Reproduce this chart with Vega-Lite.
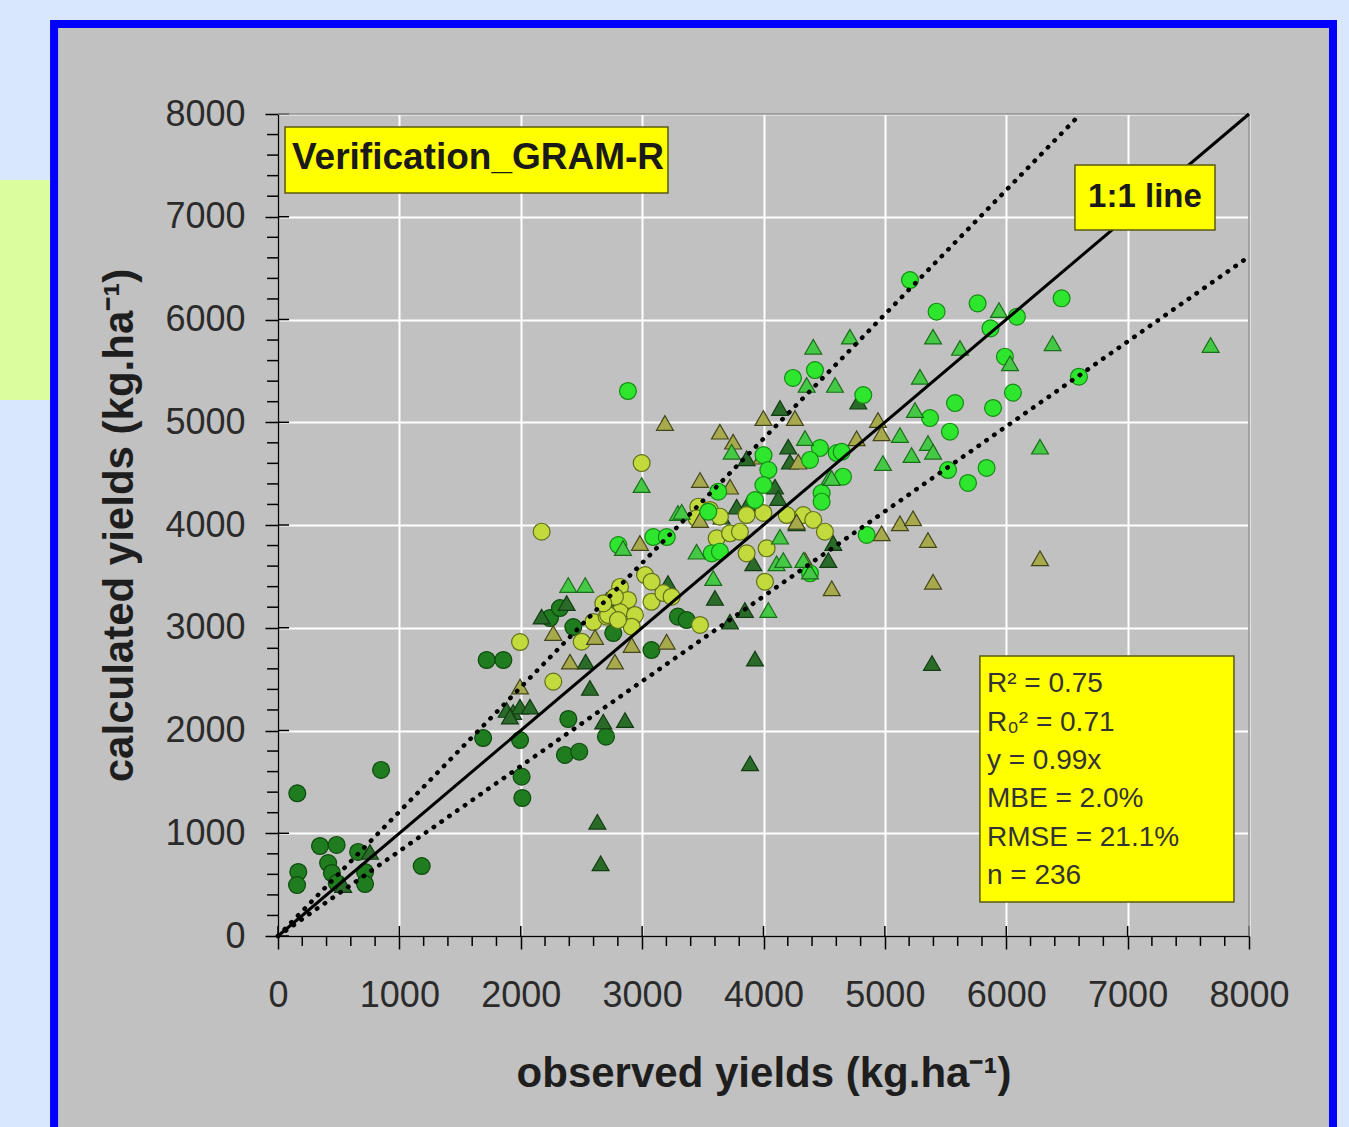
{
  "$schema": "https://vega.github.io/schema/vega-lite/v6.json",
  "width": 971,
  "height": 822,
  "autosize": {"type": "none"},
  "padding": {"left": 278, "top": 114, "right": 100, "bottom": 191},
  "background": "#c1c1c1",
  "config": {"view": {"stroke": null, "fill": null}},
  "datasets": {
    "one": [{}],
    "points": [
      {"obs":159,"calc":1389,"series":"g1"},{"obs":849,"calc":1616,"series":"g1"},{"obs":346,"calc":876,"series":"g1"},{"obs":483,"calc":886,"series":"g1"},{"obs":167,"calc":623,"series":"g1"},{"obs":157,"calc":496,"series":"g1"},{"obs":413,"calc":710,"series":"g1"},{"obs":444,"calc":613,"series":"g1"},{"obs":660,"calc":818,"series":"g1"},{"obs":717,"calc":623,"series":"g1"},{"obs":717,"calc":506,"series":"g1"},{"obs":1184,"calc":681,"series":"g1"},{"obs":1690,"calc":1927,"series":"g1"},{"obs":1994,"calc":1907,"series":"g1"},{"obs":2007,"calc":1551,"series":"g1"},{"obs":2013,"calc":1343,"series":"g1"},{"obs":1719,"calc":2686,"series":"g1"},{"obs":1857,"calc":2686,"series":"g1"},{"obs":2241,"calc":3095,"series":"g1"},{"obs":2323,"calc":3192,"series":"g1"},{"obs":2433,"calc":3007,"series":"g1"},{"obs":2762,"calc":2949,"series":"g1"},{"obs":2392,"calc":2112,"series":"g1"},{"obs":3077,"calc":2783,"series":"g1"},{"obs":2364,"calc":1762,"series":"g1"},{"obs":2482,"calc":1794,"series":"g1"},{"obs":2702,"calc":1940,"series":"g1"},{"obs":3295,"calc":3108,"series":"g1"},{"obs":3367,"calc":3075,"series":"g1"},{"obs":484,"calc":516,"series":"g1"},
      {"obs":758,"calc":818,"series":"g2"},{"obs":537,"calc":496,"series":"g2"},{"obs":1937,"calc":2180,"series":"g2"},{"obs":1884,"calc":2200,"series":"g2"},{"obs":1994,"calc":2232,"series":"g2"},{"obs":2076,"calc":2232,"series":"g2"},{"obs":1911,"calc":2135,"series":"g2"},{"obs":2172,"calc":3108,"series":"g2"},{"obs":2378,"calc":3240,"series":"g2"},{"obs":2535,"calc":2670,"series":"g2"},{"obs":2570,"calc":2414,"series":"g2"},{"obs":2680,"calc":2086,"series":"g2"},{"obs":2859,"calc":2102,"series":"g2"},{"obs":3213,"calc":3435,"series":"g2"},{"obs":4136,"calc":5139,"series":"g2"},{"obs":4204,"calc":4762,"series":"g2"},{"obs":4218,"calc":4616,"series":"g2"},{"obs":3861,"calc":4649,"series":"g2"},{"obs":4095,"calc":4373,"series":"g2"},{"obs":4122,"calc":4263,"series":"g2"},{"obs":3779,"calc":4178,"series":"g2"},{"obs":3875,"calc":4214,"series":"g2"},{"obs":3655,"calc":4081,"series":"g2"},{"obs":4273,"calc":4016,"series":"g2"},{"obs":4575,"calc":3825,"series":"g2"},{"obs":3916,"calc":3627,"series":"g2"},{"obs":4534,"calc":3659,"series":"g2"},{"obs":3600,"calc":3290,"series":"g2"},{"obs":3847,"calc":3173,"series":"g2"},{"obs":3724,"calc":3059,"series":"g2"},{"obs":3930,"calc":2700,"series":"g2"},{"obs":4781,"calc":5200,"series":"g2"},{"obs":3889,"calc":1681,"series":"g2"},{"obs":2631,"calc":1112,"series":"g2"},{"obs":2658,"calc":707,"series":"g2"},{"obs":5388,"calc":2657,"series":"g2"},{"obs":2708,"calc":3270,"series":"g2"},
      {"obs":2172,"calc":3935,"series":"g5"},{"obs":2996,"calc":4603,"series":"g5"},{"obs":1994,"calc":2861,"series":"g5"},{"obs":2502,"calc":2864,"series":"g5"},{"obs":2598,"calc":3056,"series":"g5"},{"obs":2818,"calc":3397,"series":"g5"},{"obs":2884,"calc":3270,"series":"g5"},{"obs":2818,"calc":3153,"series":"g5"},{"obs":2941,"calc":3124,"series":"g5"},{"obs":2708,"calc":3108,"series":"g5"},{"obs":2776,"calc":3302,"series":"g5"},{"obs":3077,"calc":3253,"series":"g5"},{"obs":3175,"calc":3338,"series":"g5"},{"obs":2268,"calc":2476,"series":"g5"},{"obs":3463,"calc":4178,"series":"g5"},{"obs":3449,"calc":4065,"series":"g5"},{"obs":3559,"calc":4146,"series":"g5"},{"obs":3641,"calc":4081,"series":"g5"},{"obs":3861,"calc":4097,"series":"g5"},{"obs":3999,"calc":4117,"series":"g5"},{"obs":4191,"calc":4097,"series":"g5"},{"obs":4328,"calc":4097,"series":"g5"},{"obs":4410,"calc":4049,"series":"g5"},{"obs":4506,"calc":3935,"series":"g5"},{"obs":3614,"calc":3870,"series":"g5"},{"obs":3724,"calc":3919,"series":"g5"},{"obs":3806,"calc":3935,"series":"g5"},{"obs":3861,"calc":3724,"series":"g5"},{"obs":4026,"calc":3773,"series":"g5"},{"obs":4012,"calc":3448,"series":"g5"},{"obs":2720,"calc":3124,"series":"g5"},{"obs":3024,"calc":3513,"series":"g5"},{"obs":3078,"calc":3448,"series":"g5"},{"obs":3243,"calc":3302,"series":"g5"},{"obs":3477,"calc":3027,"series":"g5"},{"obs":2680,"calc":3237,"series":"g5"},{"obs":2914,"calc":3010,"series":"g5"},{"obs":2801,"calc":3075,"series":"g5"},
      {"obs":1994,"calc":2427,"series":"g6"},{"obs":2982,"calc":3825,"series":"g6"},{"obs":2268,"calc":2949,"series":"g6"},{"obs":2612,"calc":2910,"series":"g6"},{"obs":2406,"calc":2670,"series":"g6"},{"obs":2776,"calc":2670,"series":"g6"},{"obs":3202,"calc":2864,"series":"g6"},{"obs":3188,"calc":4993,"series":"g6"},{"obs":3641,"calc":4908,"series":"g6"},{"obs":3750,"calc":4811,"series":"g6"},{"obs":3999,"calc":5041,"series":"g6"},{"obs":4259,"calc":5041,"series":"g6"},{"obs":3985,"calc":4665,"series":"g6"},{"obs":3477,"calc":4438,"series":"g6"},{"obs":3724,"calc":4373,"series":"g6"},{"obs":3477,"calc":4049,"series":"g6"},{"obs":4342,"calc":3659,"series":"g6"},{"obs":4562,"calc":3384,"series":"g6"},{"obs":2914,"calc":2832,"series":"g6"},{"obs":4943,"calc":5022,"series":"g6"},{"obs":4973,"calc":4892,"series":"g6"},{"obs":4767,"calc":4844,"series":"g6"},{"obs":4287,"calc":4616,"series":"g6"},{"obs":4273,"calc":4032,"series":"g6"},{"obs":4973,"calc":3919,"series":"g6"},{"obs":5124,"calc":4016,"series":"g6"},{"obs":5232,"calc":4065,"series":"g6"},{"obs":5355,"calc":3854,"series":"g6"},{"obs":5397,"calc":3448,"series":"g6"},{"obs":6278,"calc":3676,"series":"g6"},
      {"obs":2804,"calc":3805,"series":"g3"},{"obs":3092,"calc":3883,"series":"g3"},{"obs":3203,"calc":3883,"series":"g3"},{"obs":4465,"calc":4749,"series":"g3"},{"obs":4383,"calc":4633,"series":"g3"},{"obs":4603,"calc":4700,"series":"g3"},{"obs":4000,"calc":4680,"series":"g3"},{"obs":4040,"calc":4535,"series":"g3"},{"obs":3999,"calc":4389,"series":"g3"},{"obs":3627,"calc":4324,"series":"g3"},{"obs":4479,"calc":4311,"series":"g3"},{"obs":4479,"calc":4227,"series":"g3"},{"obs":3545,"calc":4129,"series":"g3"},{"obs":3930,"calc":4243,"series":"g3"},{"obs":3573,"calc":3724,"series":"g3"},{"obs":3641,"calc":3740,"series":"g3"},{"obs":4424,"calc":5508,"series":"g3"},{"obs":4243,"calc":5431,"series":"g3"},{"obs":4822,"calc":5265,"series":"g3"},{"obs":5578,"calc":5187,"series":"g3"},{"obs":5891,"calc":5139,"series":"g3"},{"obs":5372,"calc":5041,"series":"g3"},{"obs":5536,"calc":4908,"series":"g3"},{"obs":4644,"calc":4713,"series":"g3"},{"obs":5520,"calc":4535,"series":"g3"},{"obs":5838,"calc":4555,"series":"g3"},{"obs":5685,"calc":4409,"series":"g3"},{"obs":4655,"calc":4470,"series":"g3"},{"obs":4850,"calc":3903,"series":"g3"},{"obs":5207,"calc":6384,"series":"g3"},{"obs":5426,"calc":6076,"series":"g3"},{"obs":5764,"calc":6157,"series":"g3"},{"obs":5870,"calc":5914,"series":"g3"},{"obs":6088,"calc":6027,"series":"g3"},{"obs":6456,"calc":6206,"series":"g3"},{"obs":5989,"calc":5638,"series":"g3"},{"obs":6599,"calc":5443,"series":"g3"},{"obs":6055,"calc":5288,"series":"g3"},{"obs":2883,"calc":5304,"series":"g3"},{"obs":4383,"calc":3530,"series":"g3"},
      {"obs":2996,"calc":4389,"series":"g4"},{"obs":2391,"calc":3416,"series":"g4"},{"obs":2531,"calc":3416,"series":"g4"},{"obs":3295,"calc":4117,"series":"g4"},{"obs":3738,"calc":4713,"series":"g4"},{"obs":4342,"calc":4847,"series":"g4"},{"obs":4548,"calc":4470,"series":"g4"},{"obs":3326,"calc":4129,"series":"g4"},{"obs":3449,"calc":3740,"series":"g4"},{"obs":4136,"calc":3886,"series":"g4"},{"obs":4108,"calc":3627,"series":"g4"},{"obs":4163,"calc":3659,"series":"g4"},{"obs":4383,"calc":3546,"series":"g4"},{"obs":3586,"calc":3484,"series":"g4"},{"obs":4040,"calc":3173,"series":"g4"},{"obs":4410,"calc":5735,"series":"g4"},{"obs":4712,"calc":5833,"series":"g4"},{"obs":5397,"calc":5833,"series":"g4"},{"obs":5619,"calc":5723,"series":"g4"},{"obs":4356,"calc":5363,"series":"g4"},{"obs":4589,"calc":5363,"series":"g4"},{"obs":5289,"calc":5443,"series":"g4"},{"obs":5248,"calc":5119,"series":"g4"},{"obs":5124,"calc":4876,"series":"g4"},{"obs":5355,"calc":4798,"series":"g4"},{"obs":5397,"calc":4713,"series":"g4"},{"obs":5220,"calc":4681,"series":"g4"},{"obs":4984,"calc":4603,"series":"g4"},{"obs":4562,"calc":4457,"series":"g4"},{"obs":4328,"calc":3659,"series":"g4"},{"obs":5940,"calc":6092,"series":"g4"},{"obs":6382,"calc":5768,"series":"g4"},{"obs":6031,"calc":5573,"series":"g4"},{"obs":6278,"calc":4762,"series":"g4"},{"obs":7684,"calc":5752,"series":"g4"},{"obs":2842,"calc":3776,"series":"g4"}
    ],
    "lines": [
      {"line":"one","obs":0,"calc":0},{"line":"one","obs":8000,"calc":8000},
      {"line":"upper","obs":0,"calc":0},{"line":"upper","obs":6612,"calc":8000},
      {"line":"lower","obs":0,"calc":0},{"line":"lower","obs":8000,"calc":6612}
    ],
    "minor": [{"v":200},{"v":400},{"v":600},{"v":800},{"v":1200},{"v":1400},{"v":1600},{"v":1800},{"v":2200},{"v":2400},{"v":2600},{"v":2800},{"v":3200},{"v":3400},{"v":3600},{"v":3800},{"v":4200},{"v":4400},{"v":4600},{"v":4800},{"v":5200},{"v":5400},{"v":5600},{"v":5800},{"v":6200},{"v":6400},{"v":6600},{"v":6800},{"v":7200},{"v":7400},{"v":7600},{"v":7800}],
    "major": [{"v":0},{"v":1000},{"v":2000},{"v":3000},{"v":4000},{"v":5000},{"v":6000},{"v":7000},{"v":8000}]
  },
  "layer": [
    {"data": {"name": "one"}, "mark": {"type": "rect", "fill": "#d8e7fb"},
     "encoding": {"x": {"datum": -2500, "type": "quantitative", "scale": {"domain": [0, 8000], "nice": false, "zero": false}}, "x2": {"datum": 9200}, "y": {"datum": 8876, "type": "quantitative", "scale": {"domain": [0, 8000], "nice": false, "zero": false}}, "y2": {"datum": 9500}}},
    {"data": {"name": "one"}, "mark": {"type": "rect", "fill": "#d8e7fb"},
     "encoding": {"x": {"datum": -2500, "type": "quantitative"}, "x2": {"datum": -1845}, "y": {"datum": -2200, "type": "quantitative"}, "y2": {"datum": 9500}}},
    {"data": {"name": "one"}, "mark": {"type": "rect", "fill": "#d8e7fb"},
     "encoding": {"x": {"datum": 8692, "type": "quantitative"}, "x2": {"datum": 9200}, "y": {"datum": -2200, "type": "quantitative"}, "y2": {"datum": 9500}}},
    {"data": {"name": "one"}, "mark": {"type": "rect", "fill": "#dcfd9e"},
     "encoding": {"x": {"datum": -2500, "type": "quantitative"}, "x2": {"datum": -1860}, "y": {"datum": 5217, "type": "quantitative"}, "y2": {"datum": 7358}}},
    {"data": {"name": "one"}, "mark": {"type": "rect", "fillOpacity": 0, "stroke": "#0000ff", "strokeWidth": 8},
     "encoding": {"x": {"datum": -1845, "type": "quantitative"}, "x2": {"datum": 8692}, "y": {"datum": -1985, "type": "quantitative"}, "y2": {"datum": 8876}}},
    {"data": {"name": "points"},
     "mark": {"type": "point", "filled": true, "size": 285, "strokeWidth": 1.2, "opacity": 1},
     "encoding": {
       "x": {"field": "obs", "type": "quantitative", "scale": {"domain": [0, 8000], "nice": false, "zero": false},
         "axis": {"values": [0,1000,2000,3000,4000,5000,6000,7000,8000], "format": "d", "grid": true, "gridColor": "#ffffff", "gridWidth": 2, "gridOpacity": 1, "domainColor": "#000000", "domainWidth": 1.5, "tickColor": "#000000", "tickWidth": 1.5, "tickSize": 13, "labelFont": "Liberation Sans", "labelFontSize": 36, "labelColor": "#2b2b2b", "labelPadding": 29, "labelFlush": false, "labelOverlap": false, "labelBound": false, "title": "observed yields (kg.ha⁻¹)", "titleFont": "Liberation Sans", "titleFontSize": 42, "titleFontWeight": "bold", "titleColor": "#1e1e1e", "titlePadding": 40}},
       "y": {"field": "calc", "type": "quantitative", "scale": {"domain": [0, 8000], "nice": false, "zero": false},
         "axis": {"values": [0,1000,2000,3000,4000,5000,6000,7000,8000], "format": "d", "grid": true, "gridColor": "#ffffff", "gridWidth": 2, "gridOpacity": 1, "domainColor": "#000000", "domainWidth": 1.5, "tickColor": "#000000", "tickWidth": 1.5, "tickSize": 13, "labelFont": "Liberation Sans", "labelFontSize": 36, "labelColor": "#2b2b2b", "labelPadding": 20, "labelOverlap": false, "labelBound": false, "title": "calculated yields (kg.ha⁻¹)", "titleFont": "Liberation Sans", "titleFontSize": 42, "titleFontWeight": "bold", "titleColor": "#1e1e1e", "titlePadding": 23}},
       "shape": {"field": "series", "type": "nominal", "legend": null, "scale": {"domain": ["g1","g2","g3","g4","g5","g6"], "range": ["circle","triangle-up","circle","triangle-up","circle","triangle-up"]}},
       "fill": {"field": "series", "type": "nominal", "legend": null, "scale": {"domain": ["g1","g2","g3","g4","g5","g6"], "range": ["#1f7d1f","#2a6b2a","#2fe62f","#45c845","#c2da3c","#a6aa4c"]}},
       "stroke": {"field": "series", "type": "nominal", "legend": null, "scale": {"domain": ["g1","g2","g3","g4","g5","g6"], "range": ["#0e4a0e","#123d12","#138a13","#1a6e1a","#5f6e1a","#44441a"]}}
     }},
    {"data": {"name": "minor"}, "mark": {"type": "rule", "color": "#000000", "strokeWidth": 1.5},
     "encoding": {"x": {"field": "v", "type": "quantitative"}, "y": {"datum": 0, "type": "quantitative"}, "y2": {"datum": -97}}},
    {"data": {"name": "minor"}, "mark": {"type": "rule", "color": "#000000", "strokeWidth": 1.5},
     "encoding": {"y": {"field": "v", "type": "quantitative"}, "x": {"datum": 0, "type": "quantitative"}, "x2": {"datum": -90}}},
    {"data": {"name": "major"}, "mark": {"type": "rule", "color": "#000000", "strokeWidth": 1.5},
     "encoding": {"x": {"field": "v", "type": "quantitative"}, "y": {"datum": 0, "type": "quantitative"}, "y2": {"datum": 97}}},
    {"data": {"name": "major"}, "mark": {"type": "rule", "color": "#000000", "strokeWidth": 1.5},
     "encoding": {"y": {"field": "v", "type": "quantitative"}, "x": {"datum": 0, "type": "quantitative"}, "x2": {"datum": 91}}},
    {"data": {"name": "one"}, "mark": {"type": "rule", "color": "#8a8a8a", "strokeWidth": 1.5},
     "encoding": {"x": {"datum": 0, "type": "quantitative"}, "x2": {"datum": 8000}, "y": {"datum": 8000, "type": "quantitative"}}},
    {"data": {"name": "one"}, "mark": {"type": "rule", "color": "#8a8a8a", "strokeWidth": 1.5},
     "encoding": {"x": {"datum": 8000, "type": "quantitative"}, "y": {"datum": 0, "type": "quantitative"}, "y2": {"datum": 8000}}},
    {"data": {"name": "lines"}, "transform": [{"filter": "datum.line == 'one'"}],
     "mark": {"type": "line", "color": "#000000", "strokeWidth": 3},
     "encoding": {"x": {"field": "obs", "type": "quantitative"}, "y": {"field": "calc", "type": "quantitative"}}},
    {"data": {"name": "lines"}, "transform": [{"filter": "datum.line != 'one'"}],
     "mark": {"type": "line", "color": "#000000", "strokeWidth": 4.5, "strokeDash": [0.5, 9], "strokeCap": "round"},
     "encoding": {"x": {"field": "obs", "type": "quantitative"}, "y": {"field": "calc", "type": "quantitative"}, "detail": {"field": "line"}}},
    {"data": {"name": "one"}, "mark": {"type": "rect", "fill": "#ffff00", "stroke": "#5a5a10", "strokeWidth": 1.5},
     "encoding": {"x": {"datum": 58, "type": "quantitative"}, "x2": {"datum": 3213}, "y": {"datum": 7231, "type": "quantitative"}, "y2": {"datum": 7873}}},
    {"data": {"name": "one"}, "mark": {"type": "text", "text": "Verification_GRAM-R", "font": "Liberation Sans", "fontSize": 37, "fontWeight": "bold", "align": "left", "baseline": "middle", "color": "#1a1a1a"},
     "encoding": {"x": {"datum": 115, "type": "quantitative"}, "y": {"datum": 7572, "type": "quantitative"}}},
    {"data": {"name": "one"}, "mark": {"type": "rect", "fill": "#ffff00", "stroke": "#5a5a10", "strokeWidth": 1.5},
     "encoding": {"x": {"datum": 6566, "type": "quantitative"}, "x2": {"datum": 7720}, "y": {"datum": 6871, "type": "quantitative"}, "y2": {"datum": 7504}}},
    {"data": {"name": "one"}, "mark": {"type": "text", "text": "1:1 line", "font": "Liberation Sans", "fontSize": 33, "fontWeight": "bold", "align": "center", "baseline": "middle", "color": "#1a1a1a"},
     "encoding": {"x": {"datum": 7143, "type": "quantitative"}, "y": {"datum": 7192, "type": "quantitative"}}},
    {"data": {"name": "one"}, "mark": {"type": "rect", "fill": "#ffff00", "stroke": "#5a5a10", "strokeWidth": 1.5},
     "encoding": {"x": {"datum": 5783, "type": "quantitative"}, "x2": {"datum": 7876}, "y": {"datum": 331, "type": "quantitative"}, "y2": {"datum": 2725}}},
    {"data": {"name": "one"}, "mark": {"type": "text", "text": ["R² = 0.75", "R₀² = 0.71", "y = 0.99x", "MBE = 2.0%", "RMSE = 21.1%", "n = 236"], "font": "Liberation Sans", "fontSize": 28, "lineHeight": 38.4, "align": "left", "baseline": "top", "color": "#333333"},
     "encoding": {"x": {"datum": 5841, "type": "quantitative"}, "y": {"datum": 2587, "type": "quantitative"}}}
  ]
}
